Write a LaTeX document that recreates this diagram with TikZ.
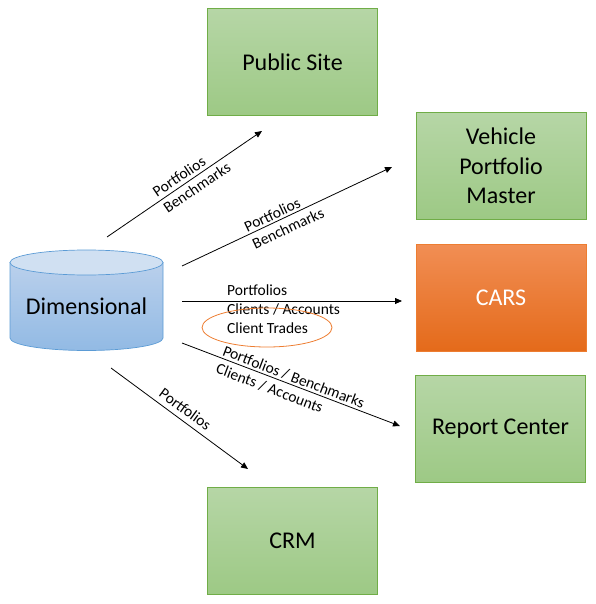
\documentclass[tikz,border=0pt]{standalone}
\usepackage{fontspec}
\setmainfont{Carlito}
\usetikzlibrary{arrows.meta}
\definecolor{gtop}{RGB}{182,214,166}
\definecolor{gbot}{RGB}{157,201,133}
\definecolor{gborder}{RGB}{112,173,71}
\definecolor{otop}{RGB}{241,142,84}
\definecolor{obot}{RGB}{228,106,26}
\definecolor{oborder}{RGB}{237,125,49}
\definecolor{ctop}{RGB}{208,224,242}
\definecolor{cbtop}{RGB}{186,208,236}
\definecolor{cbbot}{RGB}{146,186,228}
\definecolor{cborder}{RGB}{91,155,213}
\begin{document}
\begin{tikzpicture}[x=1pt,y=-1pt,
  box/.style={draw=gborder,line width=0.9pt,top color=gtop,bottom color=gbot,minimum width=170pt,minimum height=107pt,inner sep=0pt,font=\fontsize{24}{29.3}\selectfont,align=center},
  obox/.style={box,draw=oborder,top color=otop,bottom color=obot,text=white},
  lbl/.style={font=\fontsize{15.5}{19}\selectfont,align=left,inner sep=0pt},
  arr/.style={-{Triangle[length=7pt,width=6pt]},line width=0.8pt}]
\useasboundingbox (0,0) rectangle (595,604);
% database cylinder
\shade[top color=cbtop,bottom color=cbbot,draw=cborder,line width=0.7pt]
  (10,262.5) -- (10,338) arc[start angle=180,end angle=0,x radius=76.5,y radius=12.5] -- (163,262.5) -- cycle;
\filldraw[fill=ctop,draw=cborder,line width=0.7pt] (86.5,262.5) ellipse[x radius=76.5,y radius=12.5];
\node[font=\fontsize{24}{29}\selectfont] (dim) at (86.5,306) {Dimensional};
% boxes
\node[box] (pub) at (292.5,62) {Public Site};
\node[box] (vpm) at (501,166) {Vehicle\\Portfolio\\Master};
\node[obox] (cars) at (501,298) {CARS};
\node[box] (rep) at (500.5,428.5) {Report Center};
\node[box] (crm) at (292.5,540.5) {CRM};
% arrow ends
\coordinate (a1s) at (107,237); \coordinate (a1e) at (262,131);
\coordinate (a2s) at (182,266); \coordinate (a2e) at (392,167);
\coordinate (a3s) at (182,301); \coordinate (a3e) at (402,301);
\coordinate (a4s) at (182,343); \coordinate (a4e) at (400,426);
\coordinate (a5s) at (111,368); \coordinate (a5e) at (248,469);
\draw[arr] (a1s) -- (a1e);
\draw[arr] (a2s) -- (a2e);
\draw[arr] (a3s) -- (a3e);
\draw[arr] (a4s) -- (a4e);
\draw[arr] (a5s) -- (a5e);
% labels
\node[lbl,rotate=34.1] (l1) at (191.5,179.7) {Portfolios\\Benchmarks};
\node[lbl,rotate=25.2] (l2) at (284,219.5) {Portfolios\\Benchmarks};
\node[lbl,anchor=west] (l3) at (227,309.3) {Portfolios\\Clients / Accounts\\Client Trades};
\node[lbl,rotate=-20.8] (l4) at (290.4,386) {Portfolios / Benchmarks\\Clients / Accounts};
\node[lbl,rotate=-36.4] (l5) at (185.4,409.2) {Portfolios};
\draw[oborder,line width=0.8pt] (267,327.5) ellipse[x radius=65,y radius=19.5];
\end{tikzpicture}
\end{document}
